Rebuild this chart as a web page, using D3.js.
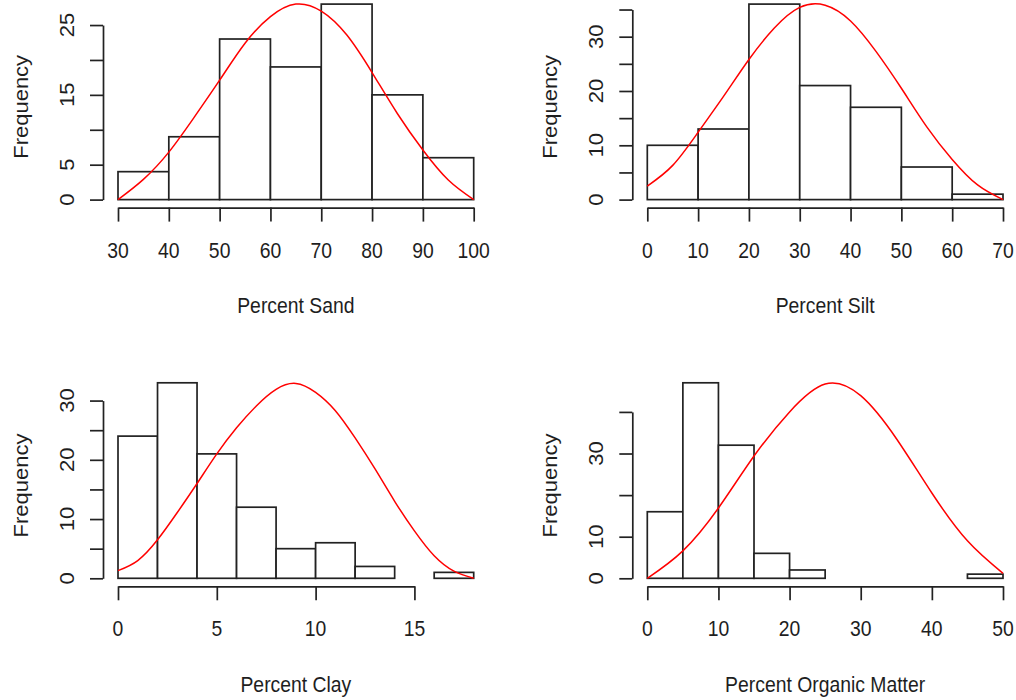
<!DOCTYPE html>
<html>
<head>
<meta charset="utf-8">
<script src="https://cdn.jsdelivr.net/npm/d3@7"></script>
<style>
  html, body { margin: 0; padding: 0; background: #fff; }
  svg text { font-family: "Liberation Sans", Arial, sans-serif; fill: #1e1e1e; }
</style>
</head>
<body>
<svg id="chart" width="1016" height="700"></svg>
<script>
// ---- Soil texture data: histogram bins and counts ----
const sandBreaks = [30, 40, 50, 60, 70, 80, 90, 100];
const sandCounts = [4, 9, 23, 19, 28, 15, 6];
const sandXTicks = [30, 40, 50, 60, 70, 80, 90, 100];
const sandYTicks = [0, 5, 10, 15, 20, 25];
const sandYLabels = [0, 5, 15, 25];
const sandCurve = [[30, 0], [35, 2.9], [40, 6.8], [45, 11.8], [50, 17.1], [55, 22.4], [60, 26.2],
  [65, 28.0], [70, 27.0], [75, 23.6], [80, 18.2], [85, 12.3], [90, 7.1], [95, 2.8], [100, 0]];

const siltBreaks = [0, 10, 20, 30, 40, 50, 60, 70];
const siltCounts = [10, 13, 36, 21, 17, 6, 1];
const siltXTicks = [0, 10, 20, 30, 40, 50, 60, 70];
const siltYTicks = [0, 5, 10, 15, 20, 25, 30, 35];
const siltYLabels = [0, 10, 20, 30];
const siltCurve = [[0, 2.5], [5, 6.3], [10, 12.4], [15, 19.0], [20, 25.8], [25, 31.6], [30, 35.4],
  [35, 35.8], [40, 32.9], [45, 27.3], [50, 20.5], [55, 13.4], [60, 7.4], [65, 2.7], [70, 0]];

const clayBreaks = [0, 2, 4, 6, 8, 10, 12, 14, 16, 18];
const clayCounts = [24, 33, 21, 12, 5, 6, 2, 0, 1];
const clayXTicks = [0, 5, 10, 15];
const clayYTicks = [0, 5, 10, 15, 20, 25, 30];
const clayYLabels = [0, 10, 20, 30];
const clayCurve = [[0, 1.3], [1, 3.0], [2, 6.5], [3, 11.1], [4, 16.0], [5, 21.0], [6, 25.4],
  [7, 29.1], [8, 31.9], [9, 32.9], [10, 31.4], [11, 28.3], [12, 23.7], [13, 18.5], [14, 13.0],
  [15, 8.0], [16, 3.8], [17, 1.2], [18, 0]];

const omBreaks = [0, 5, 10, 15, 20, 25, 30, 35, 40, 45, 50];
const omCounts = [16, 47, 32, 6, 2, 0, 0, 0, 0, 1];
const omXTicks = [0, 10, 20, 30, 40, 50];
const omYTicks = [0, 10, 20, 30, 40];
const omYLabels = [0, 10, 30];
const omCurve = [[0, 0], [5, 6.6], [10, 16.9], [15, 29.4], [20, 40.0], [25, 46.7], [30, 43.9],
  [35, 33.6], [40, 20.5], [45, 9.0], [50, 1.2]];

const titles = ["Percent Sand", "Percent Silt", "Percent Clay", "Percent Organic Matter"];
const yTitle = "Frequency";

// ---- Layout of the 2x2 panel grid ----
const panels = [
  { breaks: sandBreaks, counts: sandCounts, xTicks: sandXTicks, yTicks: sandYTicks, yLabels: sandYLabels, curve: sandCurve, title: titles[0], left: 118, top: 0 },
  { breaks: siltBreaks, counts: siltCounts, xTicks: siltXTicks, yTicks: siltYTicks, yLabels: siltYLabels, curve: siltCurve, title: titles[1], left: 647.3, top: 0 },
  { breaks: clayBreaks, counts: clayCounts, xTicks: clayXTicks, yTicks: clayYTicks, yLabels: clayYLabels, curve: clayCurve, title: titles[2], left: 118, top: 378.7 },
  { breaks: omBreaks, counts: omCounts, xTicks: omXTicks, yTicks: omYTicks, yLabels: omYLabels, curve: omCurve, title: titles[3], left: 647.3, top: 378.7 }
];

const plotW = 355.7;      // width spanned by the bins
const zeroY = 199.6;      // baseline of the bars (row offset added)
const plotH = 195.5;      // height from zero to the tallest bin
const axisGap = 8;        // x axis sits below the baseline
const yAxisGap = 15;      // y axis sits left of the first bin
const tickLen = 14;
const squash = 0.88;      // horizontal compression of the lettering
const fontSize = 22;
const ink = "#222";

const svg = d3.select("#chart");

panels.forEach(p => {
  const g = svg.append("g").attr("transform", `translate(0,${p.top})`);
  const xMin = p.breaks[0], xMax = p.breaks[p.breaks.length - 1];
  const x = d3.scaleLinear().domain([xMin, xMax]).range([p.left, p.left + plotW]);
  const y = d3.scaleLinear().domain([0, d3.max(p.counts)]).range([zeroY, zeroY - plotH]);

  // bins
  const bins = p.counts.map((c, i) => ({ x0: p.breaks[i], x1: p.breaks[i + 1], n: c }));
  g.append("g").selectAll("rect").data(bins).join("rect")
    .attr("x", d => x(d.x0))
    .attr("y", d => y(d.n))
    .attr("width", d => x(d.x1) - x(d.x0))
    .attr("height", d => y(0) - y(d.n))
    .attr("fill", "#fff")
    .attr("stroke", ink)
    .attr("stroke-width", 1.7);

  // fitted density curve
  const line = d3.line()
    .x(d => x(d[0]))
    .y(d => y(d[1]))
    .curve(d3.curveNatural);
  g.append("path")
    .datum(p.curve)
    .attr("d", line)
    .attr("fill", "none")
    .attr("stroke", "#ff0000")
    .attr("stroke-width", 1.5);

  // x axis (spans the labelled ticks only)
  const xa = x.copy()
    .domain([p.xTicks[0], p.xTicks[p.xTicks.length - 1]])
    .range([x(p.xTicks[0]), x(p.xTicks[p.xTicks.length - 1])]);
  const xAxisY = zeroY + axisGap;
  const gx = g.append("g")
    .attr("transform", `translate(0,${xAxisY})`)
    .call(d3.axisBottom(xa).tickValues(p.xTicks).tickSize(tickLen).tickSizeOuter(0).tickFormat(""));
  gx.selectAll("path, line").attr("stroke", ink).attr("stroke-width", 1.7);
  g.append("g").selectAll("text").data(p.xTicks).join("text")
    .attr("transform", d => `translate(${x(d)},${xAxisY + 50}) scale(${squash},1)`)
    .attr("text-anchor", "middle")
    .attr("font-size", fontSize)
    .text(d => d);

  // y axis
  const yAxisX = p.left - yAxisGap;
  const ya = y.copy()
    .domain([p.yTicks[0], p.yTicks[p.yTicks.length - 1]])
    .range([y(p.yTicks[0]), y(p.yTicks[p.yTicks.length - 1])]);
  const gy = g.append("g")
    .attr("transform", `translate(${yAxisX},0)`)
    .call(d3.axisLeft(ya).tickValues(p.yTicks).tickSize(tickLen - 1).tickSizeOuter(0).tickFormat(""));
  gy.selectAll("path, line").attr("stroke", ink).attr("stroke-width", 1.7);
  g.append("g").selectAll("text").data(p.yLabels).join("text")
    .attr("transform", d => `translate(${yAxisX - 29},${y(d)}) scale(${squash},1) rotate(-90)`)
    .attr("text-anchor", "middle")
    .attr("font-size", fontSize)
    .text(d => d);

  // axis titles
  g.append("text")
    .attr("transform", `translate(${p.left + plotW / 2},${zeroY + 113.5}) scale(${squash},1)`)
    .attr("text-anchor", "middle")
    .attr("font-size", fontSize)
    .text(p.title);
  g.append("text")
    .attr("transform", `translate(${yAxisX - 75.5},${zeroY - plotH / 2 + 5}) scale(${squash},1) rotate(-90)`)
    .attr("text-anchor", "middle")
    .attr("font-size", fontSize)
    .text(yTitle);
});
</script>
</body>
</html>
